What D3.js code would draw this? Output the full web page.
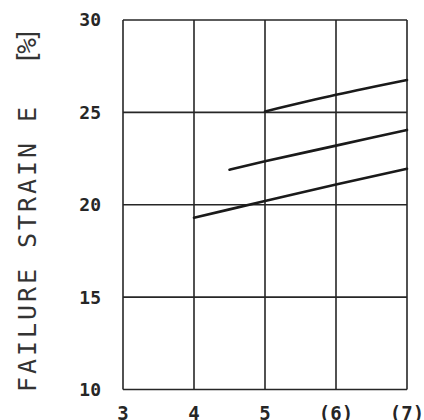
<!DOCTYPE html>
<html>
<head>
<meta charset="utf-8">
<script src="https://cdn.jsdelivr.net/npm/d3@7"></script>
<style>
  html, body { margin: 0; padding: 0; background: #fff; }
  svg { display: block; }
</style>
</head>
<body>
<svg id="chart" width="424" height="420"></svg>
<script>
// Axis ticks
const xTicks = [3, 4, 5, 6, 7];
const xTickLabels = ["3", "4", "5", "(6)", "(7)"];
const yTicks = [10, 15, 20, 25, 30];
const yTickLabels = ["10", "15", "20", "25", "30"];

// Failure strain curves (x, strain %)
const upperX = [5, 6, 7];
const upperY = [25.05, 25.95, 26.75];
const middleX = [4.5, 5, 6, 7];
const middleY = [21.9, 22.35, 23.2, 24.05];
const lowerX = [4, 5, 6, 7];
const lowerY = [19.3, 20.2, 21.1, 21.95];

const svg = d3.select("#chart");
const ink = "#262626";

const x = d3.scaleLinear().domain([3, 7]).range([123, 407]);
const y = d3.scaleLinear().domain([10, 30]).range([389.5, 20]);

// Grid and frame
const grid = svg.append("g")
  .attr("stroke", ink)
  .attr("stroke-width", 1.6)
  .attr("fill", "none");

grid.selectAll("line.v").data(xTicks).join("line")
  .attr("class", "v")
  .attr("x1", d => x(d)).attr("x2", d => x(d))
  .attr("y1", y(30)).attr("y2", y(10));

grid.selectAll("line.h").data(yTicks).join("line")
  .attr("class", "h")
  .attr("x1", x(3)).attr("x2", x(7))
  .attr("y1", d => y(d)).attr("y2", d => y(d));

// Curves
const line = d3.line()
  .x(d => x(d[0]))
  .y(d => y(d[1]))
  .curve(d3.curveMonotoneX);

const series = [
  d3.zip(upperX, upperY),
  d3.zip(middleX, middleY),
  d3.zip(lowerX, lowerY)
];

svg.append("g").selectAll("path").data(series).join("path")
  .attr("d", line)
  .attr("fill", "none")
  .attr("stroke", "#1a1a1a")
  .attr("stroke-width", 2.6)
  .attr("stroke-linecap", "round");

// Tick labels
const monoFont = "'DejaVu Sans Mono', 'Liberation Mono', monospace";

svg.append("g").selectAll("text").data(yTicks).join("text")
  .attr("x", 101)
  .attr("y", d => y(d))
  .attr("dy", "0.36em")
  .attr("text-anchor", "end")
  .attr("font-family", monoFont)
  .attr("font-weight", "bold")
  .attr("font-size", 18)
  .attr("fill", ink)
  .text((d, i) => yTickLabels[i]);

svg.append("g").selectAll("text").data(xTicks).join("text")
  .attr("x", d => x(d))
  .attr("y", 420)
  .attr("text-anchor", "middle")
  .attr("font-family", monoFont)
  .attr("font-weight", "bold")
  .attr("font-size", 19)
  .attr("fill", ink)
  .text((d, i) => xTickLabels[i]);

// Y axis title
svg.append("text")
  .attr("transform", "translate(36,392) rotate(-90)")
  .attr("font-family", monoFont)
  .attr("font-size", 25)
  .attr("fill", "#333")
  .attr("textLength", 285)
  .attr("lengthAdjust", "spacing")
  .text("FAILURE STRAIN E");

svg.append("text")
  .attr("transform", "translate(36,65) rotate(-90)")
  .attr("font-family", monoFont)
  .attr("font-size", 26)
  .attr("fill", "#333")
  .attr("textLength", 38)
  .attr("lengthAdjust", "spacing")
  .text("[%]");
</script>
</body>
</html>
